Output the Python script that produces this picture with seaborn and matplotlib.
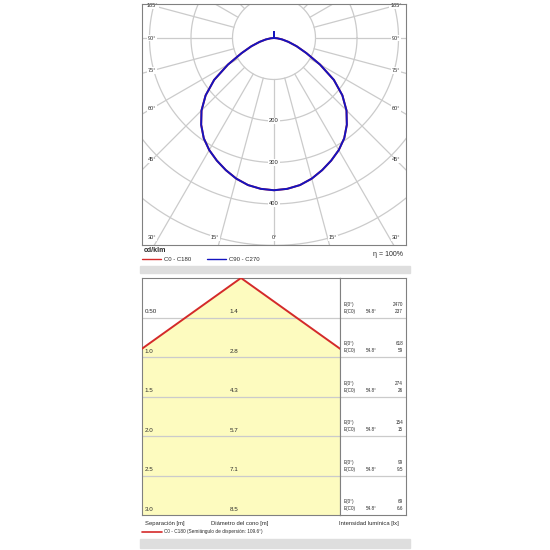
import numpy as np
import seaborn as sns
import matplotlib.pyplot as plt
from matplotlib.lines import Line2D
from matplotlib.patches import Rectangle

# luminous intensity curve [cd/klm], angle from nadir
gamma = [0, 5, 10, 15, 20, 25, 30, 35, 40, 45, 50, 55, 60, 65, 70, 75, 80,
         85, 90, 180]
c0_c180 = [367, 365, 360, 351, 339, 326, 312, 295, 273, 247, 215, 176, 128,
           86, 58, 36, 20, 8, 0, 14]
c90_c270 = [367, 365, 360, 351, 339, 326, 312, 295, 273, 247, 215, 176, 128,
            86, 58, 36, 20, 8, 0, 14]

rings = [100, 200, 300, 400, 500, 600]
ring_labels = [200, 300, 400]
side_angles = [45, 60, 75, 90, 105]
bottom_angles = [-30, -15, 0, 15, 30]

# cone diagram
heights = [0.5, 1.0, 1.5, 2.0, 2.5, 3.0]
height_labels = ["0.50", "1.0", "1.5", "2.0", "2.5", "3.0"]
diameters = [1.4, 2.8, 4.3, 5.7, 7.1, 8.5]
e_nadir = ["2470", "618", "274", "154", "99", "69"]
e_c0 = ["237", "59", "26", "15", "9.5", "6.6"]
half_angle = "54.8°"

RED = "#d42a2a"
BLUE = "#1414c0"
GRID = "#cbcbcb"
FRAME = "#808080"
TXT = "#2a2a2a"
YELLOW = "#fdfbbf"

sns.set_theme(style="white")
plt.rcParams["font.family"] = ["Liberation Sans", "DejaVu Sans"]

W = 550.0
fig = plt.figure(figsize=(5.5, 5.5), dpi=100)


def fx(px):
    return px / W


def fy(py):
    return 1 - py / W


def to_xy(ang, val):
    a = np.radians(np.asarray(ang, dtype=float))
    v = np.asarray(val, dtype=float)
    return v * np.sin(a), -v * np.cos(a)


# ---------- polar diagram ----------
ax1 = fig.add_axes([fx(142), fy(245), fx(264), fx(241)])
ax1.set_xlim(-318, 318)
ax1.set_ylim(-499, 82)
ax1.set_xticks([])
ax1.set_yticks([])
for sp in ax1.spines.values():
    sp.set_color(FRAME)
    sp.set_linewidth(0.8)

t = np.linspace(0, 2 * np.pi, 500)
for r in rings:
    ax1.plot(r * np.cos(t), r * np.sin(t), color=GRID, lw=0.9, zorder=1)
for a in range(-180, 181, 15):
    gx, gy = to_xy([a, a], [100, 1200])
    ax1.plot(gx, gy, color=GRID, lw=0.9, zorder=1)

for data, col in [(c0_c180, RED), (c90_c270, BLUE)]:
    ang = [-g for g in gamma[::-1]] + gamma[1:]
    val = data[::-1] + data[1:]
    cx, cy = to_xy(ang, val)
    sns.lineplot(x=cx, y=cy, sort=False, estimator=None, color=col, lw=1.4,
                 ax=ax1, zorder=3)

lbl_box = dict(boxstyle="square,pad=0.15", fc="white", ec="none")
for r in ring_labels:
    ax1.text(0, -r, str(r), fontsize=4.2, color=TXT, ha="center",
             va="center", bbox=lbl_box, zorder=2)
for a in side_angles:
    yy = -294 * np.cos(np.radians(a)) / np.sin(np.radians(a))
    for s in (-1, 1):
        ax1.text(s * 294, yy, f"{a}°", fontsize=4, color=TXT, ha="center",
                 va="center", bbox=lbl_box, zorder=2)
for a in bottom_angles:
    xx = np.clip(482 * np.tan(np.radians(a)) * 1.1, -294, 294)
    ax1.text(xx, -482, f"{abs(a)}°", fontsize=4, color=TXT, ha="center",
             va="center", bbox=lbl_box, zorder=2)

fig.text(fx(144), fy(251), "cd/klm", fontsize=5, fontweight="bold",
         color=TXT, va="center")
fig.text(fx(403), fy(255), "η = 100%", fontsize=5, color=TXT, ha="right",
         va="center")
fig.legend(handles=[Line2D([], [], color=RED, lw=1),
                    Line2D([], [], color=BLUE, lw=1)],
           labels=["C0 - C180", "C90 - C270"], loc="center left",
           bbox_to_anchor=(fx(142), fy(259)), ncol=2, frameon=False,
           fontsize=4.3, handlelength=3.2, handletextpad=0.5,
           columnspacing=2.6, borderpad=0, borderaxespad=0,
           labelcolor=TXT)

# gray separator bands
for y0, h in [(266, 7), (539, 9)]:
    fig.patches.append(Rectangle((fx(140), fy(y0 + h)), fx(270), fx(h),
                                 transform=fig.transFigure, color="#dedede",
                                 zorder=0))

# ---------- cone diagram ----------
ax2 = fig.add_axes([fx(142), fy(515), fx(198), fx(237)])
ax2.set_xlim(-1.253, 1.253)
ax2.set_ylim(3.0, 0)
ax3 = fig.add_axes([fx(340), fy(515), fx(66), fx(237)])
ax3.set_xlim(0, 66)
ax3.set_ylim(3.0, 0)
for ax in (ax2, ax3):
    ax.set_xticks([])
    ax.set_yticks([])
    for sp in ax.spines.values():
        sp.set_color(FRAME)
        sp.set_linewidth(0.8)
    for h in heights[:-1]:
        ax.axhline(h, color=GRID, lw=0.9, zorder=1)

hh = np.array([0] + heights)
rad = np.array([0] + diameters) / 2
ax2.fill_betweenx(hh, -rad, rad, color=YELLOW, lw=0, zorder=0)
sns.lineplot(x=np.concatenate([-rad[::-1], rad[1:]]),
             y=np.concatenate([hh[::-1], hh[1:]]), sort=False,
             estimator=None, color=RED, lw=1.4, ax=ax2, zorder=3)

for h, hl, d, e0, ec in zip(heights, height_labels, diameters, e_nadir, e_c0):
    ax2.text(-1.22, h - 0.075, hl, fontsize=4.5, color=TXT, va="center")
    ax2.text(-0.14, h - 0.075, f"{d:.1f}", fontsize=4.5, color=TXT,
             va="center")
    ax3.text(4, h - 0.165, "E(0°)", fontsize=3.3, color=TXT, va="center")
    ax3.text(4, h - 0.076, "E(C0)", fontsize=3.3, color=TXT, va="center")
    ax3.text(31, h - 0.076, half_angle, fontsize=3.3, color=TXT,
             va="center", ha="center")
    ax3.text(63, h - 0.165, e0, fontsize=3.3, color=TXT, va="center",
             ha="right")
    ax3.text(63, h - 0.076, ec, fontsize=3.3, color=TXT, va="center",
             ha="right")

fig.text(fx(145), fy(523), "Separación [m]", fontsize=4.2, color=TXT,
         va="center")
fig.text(fx(211), fy(523), "Diámetro del cono [m]", fontsize=4.2,
         color=TXT, va="center")
fig.text(fx(339), fy(523), "Intensidad lumínica [lx]", fontsize=4.2,
         color=TXT, va="center")
fig.legend(handles=[Line2D([], [], color=RED, lw=1.2)],
           labels=["C0 - C180 (Semiángulo de dispersión: 109.6°)"],
           loc="center left", bbox_to_anchor=(fx(142), fy(532)),
           frameon=False, fontsize=3.4, handlelength=4.2, handletextpad=0.4,
           borderpad=0, borderaxespad=0, labelcolor=TXT)

fig.savefig("out.png", dpi=100, facecolor="white")
